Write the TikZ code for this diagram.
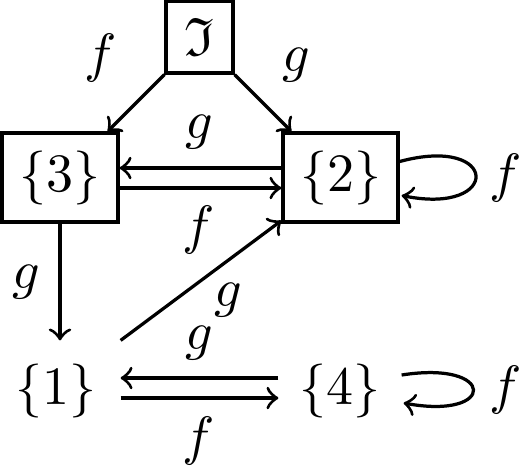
\documentclass[tikz,border=0pt]{standalone}
\usepackage{amssymb}
\usetikzlibrary{calc}
\def\pu{0.1852pt}
\begin{document}
\begin{tikzpicture}[x=\pu,y=-\pu, line width=0.6pt,
  box/.style={draw, inner sep=0pt},
  plain/.style={inner sep=0pt},
  lab/.style={inner sep=0pt}]
\useasboundingbox (0,0) rectangle (520,468);
% nodes
\node[box, minimum width=67*\pu, minimum height=72*\pu] (I) at (199.5,37) {$\mathfrak{I}$};
\node[box, minimum width=116*\pu, minimum height=89*\pu] (b3) at (60,177.5) {$\{3\}$};
\node[box, minimum width=115*\pu, minimum height=89*\pu] (b2) at (340.5,177.5) {$\{2\}$};
\node[plain, minimum width=126*\pu, minimum height=98*\pu] (n1) at (56,391) {$\{1\}$};
\node[plain, minimum width=120*\pu, minimum height=98*\pu] (n4) at (340,391) {$\{4\}$};
% connectors
\draw[->] (I.south west) -- ($(b3.north east)+(-12,0)$);
\draw[->] (I.south east) -- ($(b2.north west)+(10,0)$);
\draw[->] ($(b2.west)+(0,-9.5)$) -- ($(b3.east)+(0,-9.5)$);
\draw[->] ($(b3.east)+(0,10.5)$) -- ($(b2.west)+(0,10.5)$);
\draw[->] (b3.south) -- (b3.south |- n1.north);
\draw[->] (n1.north east) -- ($(b2.south west)+(0,-3)$);
\draw[->] ($(n4.west)+(0,-13)$) -- ($(n1.east)+(0,-13)$);
\draw[->] ($(n1.east)+(0,7)$) -- ($(n4.west)+(0,7)$);
\draw[->] ($(b2.east)+(0,-16)$) .. controls +(100,-27) and +(100,20) .. ($(b2.east)+(2,18)$);
\draw[->] ($(n4.east)+(0,-16)$) .. controls +(95,-15) and +(93,17) .. ($(n4.east)+(2,12)$);
% labels
\node[lab] (l1) at (101,58) {$f$};
\node[lab] (l2) at (296,65) {$g$};
\node[lab] (l3) at (199,132) {$g$};
\node[lab] (l4) at (199,230) {$f$};
\node[lab] (l5) at (506,178) {$f$};
\node[lab] (l6) at (26,282) {$g$};
\node[lab] (l7) at (228,300) {$g$};
\node[lab] (l8) at (199,343) {$g$};
\node[lab] (l9) at (199,441) {$f$};
\node[lab] (l10) at (506,390) {$f$};
\end{tikzpicture}
\end{document}
